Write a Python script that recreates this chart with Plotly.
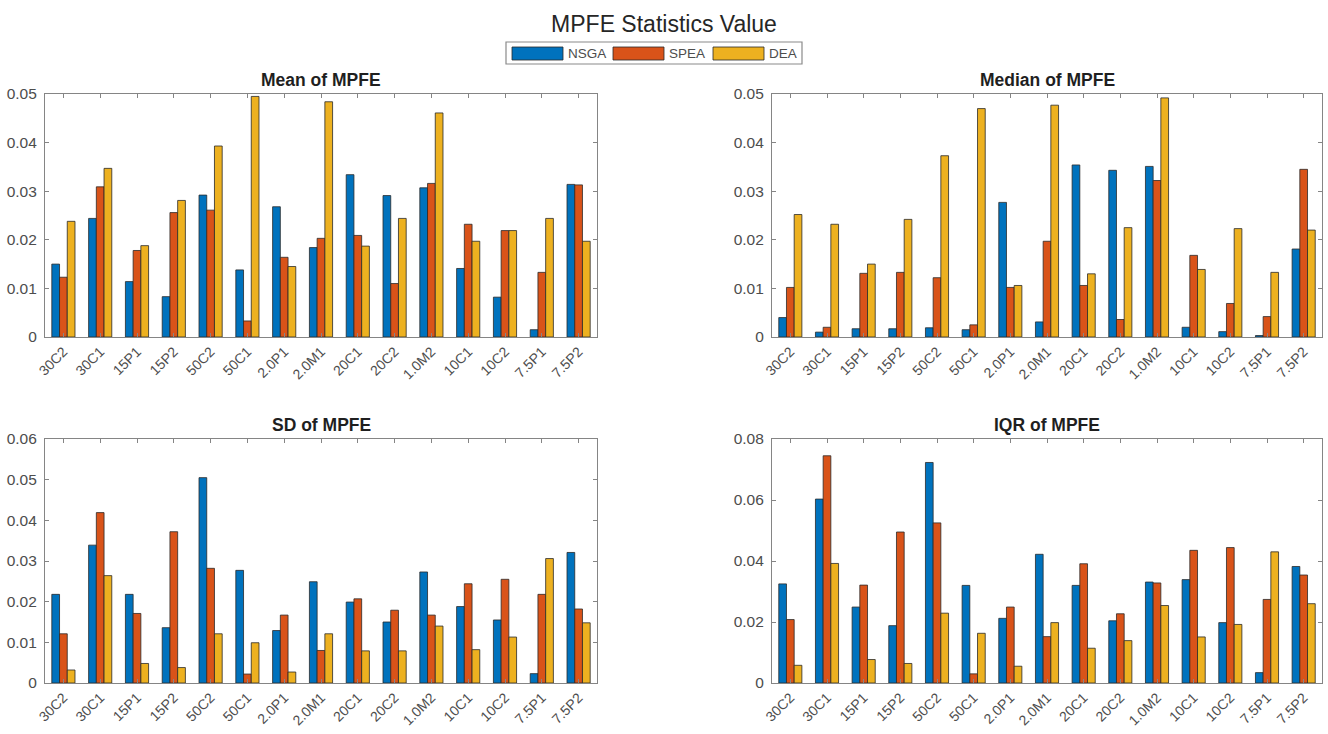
import plotly.graph_objects as go
from plotly.subplots import make_subplots

categories = ["30C2", "30C1", "15P1", "15P2", "50C2", "50C1", "2.0P1", "2.0M1",
              "20C1", "20C2", "1.0M2", "10C1", "10C2", "7.5P1", "7.5P2"]
algorithms = ["NSGA", "SPEA", "DEA"]
colors = ["#0072BD", "#D95319", "#EDB120"]

mean_nsga = [0.0150, 0.0244, 0.0114, 0.0083, 0.0292, 0.0138, 0.0268, 0.0184,
             0.0334, 0.0291, 0.0307, 0.0141, 0.0082, 0.0015, 0.0314]
mean_spea = [0.0123, 0.0309, 0.0178, 0.0256, 0.0261, 0.0033, 0.0164, 0.0203,
             0.0209, 0.0110, 0.0316, 0.0232, 0.0219, 0.0133, 0.0313]
mean_dea = [0.0238, 0.0347, 0.0188, 0.0281, 0.0393, 0.0495, 0.0145, 0.0484,
            0.0187, 0.0244, 0.0461, 0.0197, 0.0219, 0.0244, 0.0197]

median_nsga = [0.0040, 0.0010, 0.0017, 0.0017, 0.0019, 0.0015, 0.0277, 0.0031,
               0.0354, 0.0343, 0.0351, 0.0020, 0.0011, 0.0003, 0.0181]
median_spea = [0.0102, 0.0020, 0.0131, 0.0133, 0.0122, 0.0025, 0.0102, 0.0197,
               0.0106, 0.0036, 0.0322, 0.0168, 0.0069, 0.0042, 0.0345]
median_dea = [0.0252, 0.0232, 0.0150, 0.0242, 0.0373, 0.0470, 0.0106, 0.0477,
              0.0130, 0.0225, 0.0492, 0.0139, 0.0223, 0.0133, 0.0220]

sd_nsga = [0.0218, 0.0339, 0.0218, 0.0136, 0.0505, 0.0277, 0.0129, 0.0249,
           0.0199, 0.0150, 0.0273, 0.0188, 0.0155, 0.0023, 0.0321]
sd_spea = [0.0121, 0.0419, 0.0171, 0.0372, 0.0282, 0.0022, 0.0167, 0.0080,
           0.0207, 0.0179, 0.0167, 0.0244, 0.0255, 0.0218, 0.0182]
sd_dea = [0.0032, 0.0264, 0.0048, 0.0038, 0.0121, 0.0099, 0.0027, 0.0121,
          0.0079, 0.0079, 0.0140, 0.0082, 0.0113, 0.0306, 0.0148]

iqr_nsga = [0.0325, 0.0603, 0.0249, 0.0188, 0.0723, 0.0320, 0.0212, 0.0422,
            0.0320, 0.0204, 0.0331, 0.0339, 0.0198, 0.0034, 0.0382]
iqr_spea = [0.0208, 0.0745, 0.0321, 0.0495, 0.0525, 0.0030, 0.0249, 0.0152,
            0.0391, 0.0227, 0.0328, 0.0435, 0.0444, 0.0274, 0.0354]
iqr_dea = [0.0058, 0.0392, 0.0077, 0.0064, 0.0229, 0.0163, 0.0055, 0.0198,
           0.0114, 0.0139, 0.0254, 0.0151, 0.0192, 0.0430, 0.0260]

panels = [
    ("Mean of MPFE", [mean_nsga, mean_spea, mean_dea], [0, 0.05], 0.01, 1, 1),
    ("Median of MPFE", [median_nsga, median_spea, median_dea], [0, 0.05], 0.01, 1, 2),
    ("SD of MPFE", [sd_nsga, sd_spea, sd_dea], [0, 0.06], 0.01, 2, 1),
    ("IQR of MPFE", [iqr_nsga, iqr_spea, iqr_dea], [0, 0.08], 0.02, 2, 2),
]

FONT = "Liberation Sans, Arial, sans-serif"
TEXT_GRAY = "#4d4d4d"
EDGE = "#2a2a2a"
W, H = 1328, 734

fig = make_subplots(rows=2, cols=2, horizontal_spacing=0.1, vertical_spacing=0.1)

for title, series, yrange, dtick, r, c in panels:
    for k, (name, vals) in enumerate(zip(algorithms, series)):
        fig.add_trace(go.Bar(
            x=categories, y=vals, name=name,
            marker=dict(color=colors[k], line=dict(color=EDGE, width=0.8)),
            showlegend=False,
        ), row=r, col=c)
    fig.update_yaxes(range=yrange, dtick=dtick, row=r, col=c)

# plot area placement in pixels: (left, right, top, bottom)
boxes = {
    (1, 1): (45, 597, 94, 337),
    (1, 2): (772, 1322, 94, 337),
    (2, 1): (45, 597, 439, 683),
    (2, 2): (772, 1322, 439, 683),
}
axis_idx = {(1, 1): "", (1, 2): "2", (2, 1): "3", (2, 2): "4"}
for key, (l, rgt, t, b) in boxes.items():
    i = axis_idx[key]
    fig.layout["xaxis" + i].domain = [l / W, rgt / W]
    fig.layout["yaxis" + i].domain = [1 - b / H, 1 - t / H]

axis_style = dict(
    showline=True, linecolor="#858585", linewidth=1.2, mirror="ticks",
    ticks="inside", ticklen=4, tickcolor="#858585", tickwidth=1,
    showgrid=False, zeroline=False, automargin=False,
)
fig.update_xaxes(**axis_style, tickangle=-45, range=[-0.5, 14.5],
                 tickfont=dict(family=FONT, size=14, color=TEXT_GRAY))
fig.update_yaxes(**axis_style, ticklabelstandoff=4,
                 tickfont=dict(family=FONT, size=15.5, color=TEXT_GRAY))

# panel titles
for (title, _, _, _, r, c) in panels:
    l, rgt, t, b = boxes[(r, c)]
    fig.add_annotation(
        text="<b>" + title + "</b>", x=(l + rgt) / 2 / W, y=1 - (t - 14) / H,
        xref="paper", yref="paper", showarrow=False,
        font=dict(family=FONT, size=17.5, color="#1f1f1f"),
        xanchor="center", yanchor="middle",
    )

# legend box with wide colour patches
def px(x):
    return x / W


def py(y):
    return 1 - y / H


fig.add_shape(type="rect", xref="paper", yref="paper",
              x0=px(506), x1=px(802), y0=py(64), y1=py(42),
              line=dict(color="#8a8a8a", width=1.2), fillcolor="white")
legend_patch_x = [512, 613, 713]
for k, name in enumerate(algorithms):
    x0 = legend_patch_x[k]
    fig.add_shape(type="rect", xref="paper", yref="paper",
                  x0=px(x0), x1=px(x0 + 51), y0=py(60), y1=py(47),
                  line=dict(color=EDGE, width=0.8), fillcolor=colors[k])
    fig.add_annotation(text=name, x=px(x0 + 54), y=py(53.5),
                       xref="paper", yref="paper", showarrow=False,
                       xanchor="left", yanchor="middle",
                       font=dict(family=FONT, size=13.5, color=TEXT_GRAY))

fig.update_layout(
    width=W, height=H,
    margin=dict(l=0, r=0, t=0, b=0, autoexpand=False),
    paper_bgcolor="white", plot_bgcolor="white",
    barmode="group", bargap=0.37, bargroupgap=0.0,
    showlegend=False,
    title=dict(text="MPFE Statistics Value", x=0.5, xanchor="center",
               y=1 - 24 / H, yanchor="middle", automargin=False,
               font=dict(family=FONT, size=23, color="#262626")),
    font=dict(family=FONT),
)

fig.write_html("out.html")
